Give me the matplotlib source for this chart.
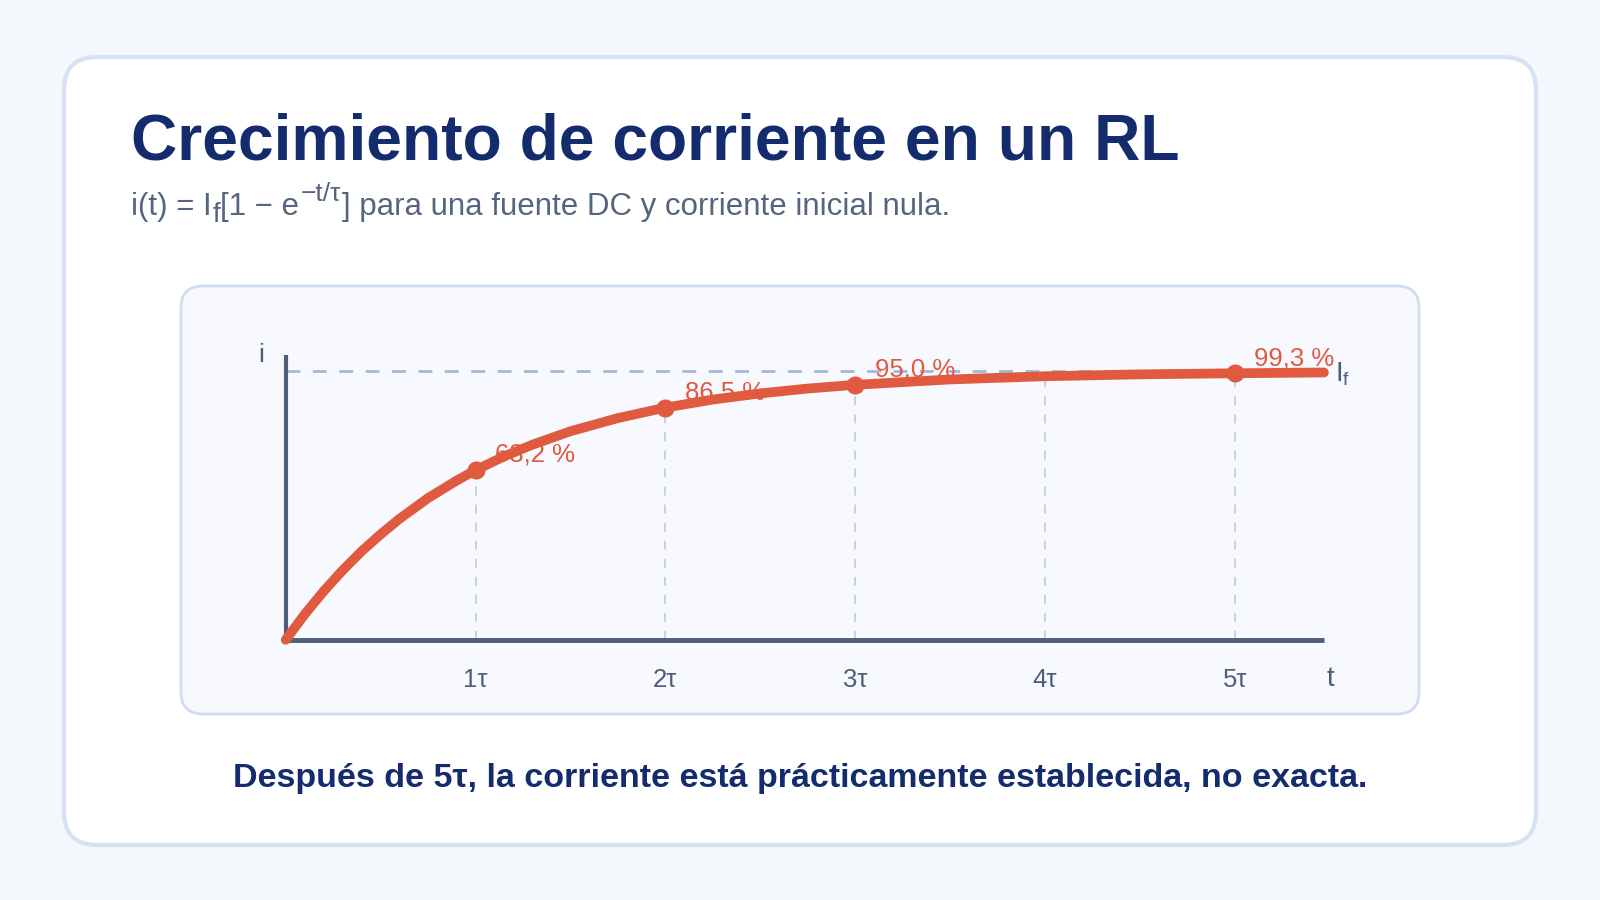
import matplotlib.pyplot as plt
from matplotlib.patches import FancyBboxPatch

plt.rcParams['font.family'] = ['Liberation Sans', 'DejaVu Sans']
plt.rcParams['mathtext.fontset'] = 'custom'
plt.rcParams['mathtext.rm'] = 'Liberation Sans'
plt.rcParams['mathtext.it'] = 'Liberation Sans:italic'

# curva (t en múltiplos de tau, i en fracción de If)
t_curve = [0, 0.1, 0.2, 0.3, 0.4, 0.5, 0.6, 0.75, 0.9, 1.0, 1.15, 1.3, 1.5, 1.75,
           2.0, 2.25, 2.5, 2.75, 3.0, 3.5, 4.0, 4.5, 5.0, 5.47]
i_curve = [0, 0.095, 0.181, 0.259, 0.330, 0.393, 0.451, 0.528, 0.593, 0.632, 0.683,
           0.727, 0.777, 0.826, 0.865, 0.895, 0.918, 0.936, 0.950, 0.970, 0.982,
           0.989, 0.993, 0.996]

# puntos marcados
t_marks = [1, 2, 3, 5]
i_marks = [0.632, 0.865, 0.950, 0.993]
mark_labels = ['63,2 %', '86,5 %', '95,0 %', '99,3 %']

# marcas del eje t
t_ticks = [1, 2, 3, 4, 5]
t_tick_labels = ['1τ', '2τ', '3τ', '4τ', '5τ']
i_at_ticks = [0.632, 0.865, 0.950, 0.982, 0.993]

navy = '#142c6e'
slate = '#4e5d78'
sub_gray = '#56657f'
orange = '#e05a3f'

fig = plt.figure(figsize=(16, 9), dpi=100)
fig.patch.set_facecolor('#f4f7fc')

# fondo en coordenadas de píxel
bg = fig.add_axes([0, 0, 1, 1])
bg.set_xlim(0, 1600)
bg.set_ylim(900, 0)
bg.axis('off')

card = FancyBboxPatch((64, 57), 1472, 788, boxstyle='round,pad=0,rounding_size=33',
                      fc='white', ec='#d6e2f4', lw=3)
bg.add_patch(card)
panel = FancyBboxPatch((181, 286), 1238, 428, boxstyle='round,pad=0,rounding_size=22',
                       fc='#f7f9fe', ec='#d0ddf1', lw=2)
bg.add_patch(panel)

bg.text(131, 160, 'Crecimiento de corriente en un RL', fontsize=46.2, fontweight='bold',
        color=navy, va='baseline', ha='left')

# subtítulo por piezas (subíndice y exponente)
p1 = bg.text(131, 215, 'i(t) = I', fontsize=22.5, color=sub_gray, va='baseline', ha='left')
p2 = bg.annotate('f', xy=(1, 0), xycoords=(p1, p1), xytext=(0.5, -4.5), textcoords='offset points',
                 fontsize=20, color=sub_gray, va='bottom', ha='left')
p3 = bg.annotate('[1 − e', xy=(1, 0), xycoords=(p2, p1), xytext=(0, 0), textcoords='offset points',
                 fontsize=22.5, color=sub_gray, va='bottom', ha='left')
p4 = bg.annotate('−t/τ', xy=(1, 0), xycoords=(p3, p1), xytext=(1, 11.5), textcoords='offset points',
                 fontsize=19, color=sub_gray, va='bottom', ha='left')
p5 = bg.annotate('] para una fuente DC y corriente inicial nula.', xy=(1, 0), xycoords=(p4, p1),
                 xytext=(0.5, 0), textcoords='offset points',
                 fontsize=22.5, color=sub_gray, va='bottom', ha='left')

bg.text(800, 779, 'Después de 5τ, la corriente está prácticamente establecida, no exacta.',
        fontsize=24.5, fontweight='bold', color=navy, va='center', ha='center')

# ejes de datos: t=0 en x=286 px, 190 px por tau; i=0 en y=640 px, 268 px por If
px_t = 189.8
px_i = 268.4
ax = fig.add_axes([285.7 / 1600, (900 - 639.8) / 900, 5.6 * px_t / 1600, 1.1 * px_i / 900])
ax.set_xlim(0, 5.6)
ax.set_ylim(0, 1.1)
ax.patch.set_alpha(0)
for s in ax.spines.values():
    s.set_visible(False)
ax.set_yticks([])
ax.set_xticks(t_ticks, t_tick_labels)
ax.tick_params(axis='x', length=0, pad=20, labelsize=18.5, labelcolor=slate)

# líneas guía verticales
for tt, ii in zip(t_ticks, i_at_ticks):
    ax.plot([tt, tt], [0, ii], color='#c3cee2', lw=1.3, dashes=(5, 5), zorder=1)

# nivel final If
ax.plot([0, 5.47], [1, 1], color='#a3b8d8', lw=2, dashes=(5, 4.5), zorder=1)

# ejes dibujados
ax.plot([0, 0], [0, 1.06], color=slate, lw=3, solid_capstyle='butt', zorder=2, clip_on=False)
ax.plot([0, 5.47], [0, 0], color=slate, lw=3.5, solid_capstyle='butt', zorder=2, clip_on=False)

ax.plot(t_curve, i_curve, color=orange, lw=7, solid_capstyle='round',
        solid_joinstyle='round', zorder=3, clip_on=False)
ax.plot(t_marks, i_marks, 'o', color=orange, ms=12, zorder=4, clip_on=False)

for tt, ii, lab in zip(t_marks, i_marks, mark_labels):
    ax.annotate(lab, (tt, ii), xytext=(14, 11), textcoords='offset points',
                ha='left', va='center', fontsize=18.5, color=orange, zorder=5)

ax.annotate('i', (0, 1.06), xytext=(-18, 0), textcoords='offset points',
            ha='center', va='center', fontsize=19, color=slate, annotation_clip=False)
ax.annotate('t', (5.47, 0), xytext=(5, -28), textcoords='offset points',
            ha='center', va='center', fontsize=20, color=slate, annotation_clip=False)
ax.annotate('I$_\\mathregular{f}$', (5.47, 1), xytext=(8, -2), textcoords='offset points',
            ha='left', va='center', fontsize=20, color=slate, annotation_clip=False)

fig.savefig('out.png', dpi=100, facecolor=fig.get_facecolor())
